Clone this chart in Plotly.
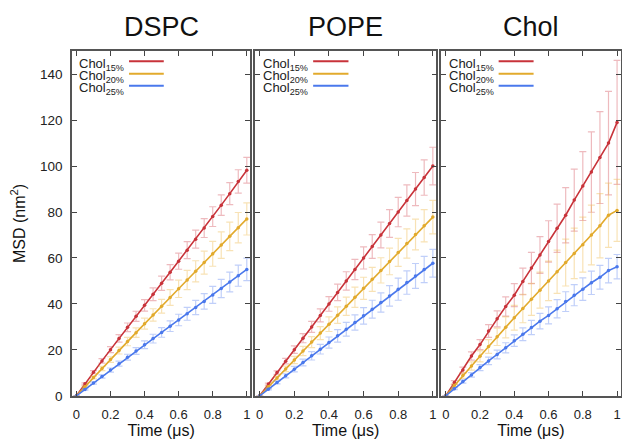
import plotly.graph_objects as go

time_us = [0, 0.05, 0.1, 0.15, 0.2, 0.25, 0.3, 0.35, 0.4, 0.45, 0.5,
           0.55, 0.6, 0.65, 0.7, 0.75, 0.8, 0.85, 0.9, 0.95, 1.0]

panels = ["DSPC", "POPE", "Chol"]
series_labels = ["15%", "20%", "25%"]

# DSPC
dspc_15 = [0, 5.2, 10.3, 15.2, 20.1, 25.0, 29.8, 34.6, 39.4, 44.2, 49.0, 53.8, 58.6, 63.4, 68.2, 73.0, 78.0, 83.0, 88.0, 93.3, 98.2]
dspc_15_err = [0, 0.4, 0.7, 1.0, 1.3, 1.6, 1.9, 2.2, 2.5, 2.8, 3.1, 3.3, 3.5, 3.7, 3.9, 4.1, 4.3, 4.5, 4.8, 5.1, 5.6]
dspc_20 = [0, 4.0, 8.0, 11.9, 15.8, 19.7, 23.6, 27.5, 31.4, 35.2, 39.0, 42.8, 46.6, 50.4, 54.2, 58.0, 61.8, 65.6, 69.4, 73.2, 77.0]
dspc_20_err = [0, 0.3, 0.6, 0.9, 1.2, 1.5, 1.8, 2.1, 2.4, 2.7, 3.0, 3.4, 3.8, 4.2, 4.6, 5.0, 5.4, 5.8, 6.2, 6.6, 7.0]
dspc_25 = [0, 2.8, 5.6, 8.4, 11.2, 14.0, 16.8, 19.5, 22.2, 24.9, 27.6, 30.3, 33.0, 35.7, 38.4, 41.1, 43.9, 46.7, 49.5, 52.3, 55.0]
dspc_25_err = [0, 0.3, 0.5, 0.7, 0.9, 1.1, 1.3, 1.5, 1.7, 1.9, 2.1, 2.3, 2.5, 2.8, 3.1, 3.4, 3.7, 4.0, 4.3, 4.6, 4.9]

# POPE
pope_15 = [0, 5.1, 10.1, 15.1, 20.1, 25.1, 30.0, 35.0, 40.0, 45.0, 50.0, 55.0, 60.0, 65.0, 70.0, 75.0, 80.0, 85.0, 90.0, 95.0, 100.0]
pope_15_err = [0, 0.4, 0.8, 1.2, 1.6, 2.0, 2.4, 2.8, 3.2, 3.6, 4.0, 4.4, 4.8, 5.2, 5.6, 6.0, 6.4, 6.8, 7.2, 7.7, 8.2]
pope_20 = [0, 3.9, 7.8, 11.7, 15.6, 19.5, 23.4, 27.3, 31.2, 35.1, 39.0, 42.9, 46.8, 50.7, 54.6, 58.5, 62.4, 66.3, 70.2, 74.0, 77.8]
pope_20_err = [0, 0.4, 0.8, 1.2, 1.6, 2.0, 2.4, 2.8, 3.2, 3.6, 4.0, 4.4, 4.8, 5.2, 5.5, 5.8, 6.1, 6.4, 6.7, 7.0, 7.3]
pope_25 = [0, 2.9, 5.8, 8.7, 11.6, 14.5, 17.4, 20.3, 23.2, 26.1, 29.0, 31.9, 34.8, 37.7, 40.6, 43.5, 46.4, 49.3, 52.2, 55.0, 57.7]
pope_25_err = [0, 0.3, 0.6, 0.9, 1.2, 1.5, 1.8, 2.1, 2.4, 2.7, 3.0, 3.3, 3.6, 3.9, 4.2, 4.5, 4.8, 5.1, 5.4, 5.7, 6.0]

# Chol
chol_15 = [0, 5.8, 11.2, 17.3, 22.3, 28.2, 33.5, 38.9, 43.8, 49.8, 55.6, 61.3, 67.2, 72.9, 78.6, 85.2, 91.3, 97.4, 103.7, 110.0, 119.0]
chol_15_err = [0, 0.8, 1.3, 1.8, 2.2, 2.8, 3.5, 4.2, 5.0, 5.8, 6.8, 8.0, 9.0, 10.5, 12.0, 13.5, 15.0, 17.5, 20.0, 22.5, 27.0]
chol_20 = [0, 4.5, 8.8, 13.0, 17.2, 21.5, 25.7, 29.8, 34.0, 38.0, 42.0, 46.0, 50.0, 54.0, 58.0, 62.0, 65.8, 70.0, 74.0, 78.6, 80.7]
chol_20_err = [0, 0.6, 1.2, 1.8, 2.4, 3.0, 3.8, 4.6, 5.4, 6.2, 7.0, 7.8, 8.6, 9.4, 10.2, 11.0, 12.0, 13.0, 14.0, 14.0, 13.5]
chol_25 = [0, 3.1, 6.2, 9.1, 12.3, 15.2, 18.0, 20.9, 24.0, 26.8, 29.7, 32.5, 35.0, 37.9, 41.0, 43.8, 46.4, 49.2, 51.6, 54.5, 56.2]
chol_25_err = [0, 0.4, 0.7, 1.0, 1.3, 1.6, 1.9, 2.2, 2.5, 2.8, 3.1, 3.4, 3.7, 4.0, 4.3, 4.6, 4.9, 5.1, 5.2, 5.3, 5.3]

y_ticks = [0, 20, 40, 60, 80, 100, 120, 140]
x_ticks = [0, 0.2, 0.4, 0.6, 0.8, 1]
x_tick_labels = ["0", "0.2", "0.4", "0.6", "0.8", "1"]

data = {
    "DSPC": [(dspc_15, dspc_15_err), (dspc_20, dspc_20_err), (dspc_25, dspc_25_err)],
    "POPE": [(pope_15, pope_15_err), (pope_20, pope_20_err), (pope_25, pope_25_err)],
    "Chol": [(chol_15, chol_15_err), (chol_20, chol_20_err), (chol_25, chol_25_err)],
}

line_colors = ["#c8333a", "#e2aa2c", "#4a78ec"]
err_colors = ["rgba(215,90,100,0.42)", "rgba(236,180,60,0.38)", "rgba(90,130,240,0.38)"]

FONT = "Liberation Sans, Arial, Helvetica, sans-serif"
W, H = 630, 440
OFF = 8  # page body margin
# panel frames on screen (slightly compressed so the right frame stays visible)
x_px = [(72, 250.2), (255.2, 436.3), (441.3, 620.5)]
x_domains = [((a - OFF) / W, (b - OFF) / W) for a, b in x_px]
top_px, bot_px = 52 - OFF, 403 - OFF
y_domain = (1 - bot_px / H, 1 - top_px / H)

fig = go.Figure()
layout = dict(
    width=W, height=H, autosize=False,
    margin=dict(l=0, r=0, t=0, b=0),
    paper_bgcolor="white", plot_bgcolor="white",
    showlegend=False,
    font=dict(family=FONT, color="#222"),
)
annotations = []
shapes = []
legend_rows = [(403 - 62.3) / 351, (403 - 75.0) / 351, (403 - 87.3) / 351]

for i, name in enumerate(panels):
    sfx = "" if i == 0 else str(i + 1)
    xa, ya = "x" + sfx, "y" + sfx
    for j, (vals, errs) in enumerate(data[name]):
        fig.add_trace(go.Scatter(
            x=time_us, y=vals, xaxis=xa, yaxis=ya,
            mode="lines+markers", name="Chol " + series_labels[j],
            line=dict(color=line_colors[j], width=1.6),
            marker=dict(color=line_colors[j], size=3.5),
            error_y=dict(type="data", array=errs, visible=True,
                         color=err_colors[j], thickness=1.2, width=3.5),
        ))
    layout["xaxis" + sfx] = dict(
        domain=list(x_domains[i]), anchor=ya, range=[-0.026, 1.02],
        tickvals=x_ticks, ticktext=x_tick_labels,
        ticks="inside", ticklen=5, tickwidth=1.2, tickcolor="#444",
        showline=True, linecolor="#555", linewidth=1.5, mirror="ticks",
        showgrid=False, zeroline=False,
        tickfont=dict(size=13, color="#222", family=FONT),
        ticklabelstandoff=6,
        title=dict(text="Time (μs)", font=dict(size=16, color="#111", family=FONT), standoff=4),
    )
    layout["yaxis" + sfx] = dict(
        domain=list(y_domain), anchor=xa, range=[0, 150],
        tickvals=y_ticks,
        ticks="inside", ticklen=5, tickwidth=1.2, tickcolor="#444",
        showline=True, linecolor="#555", linewidth=1.5, mirror="ticks",
        showgrid=False, zeroline=False,
        showticklabels=(i == 0),
        tickfont=dict(size=13.5, color="#222", family=FONT),
        ticklabelstandoff=5,
        title=dict(text="MSD (nm<sup>2</sup>)" if i == 0 else "",
                   font=dict(size=16, color="#111", family=FONT), standoff=14),
    )
    # panel title
    annotations.append(dict(
        text=name, xref=xa + " domain", yref="paper", x=0.5, y=1 - (27 - OFF) / H,
        xanchor="center", yanchor="middle", showarrow=False,
        font=dict(size=27, color="#111", family=FONT),
    ))
    # legend (text left, line sample right)
    for j in range(3):
        ly = legend_rows[j]
        annotations.append(dict(
            text="Chol<sub>" + series_labels[j] + "</sub>",
            xref=xa + " domain", yref=ya + " domain", x=0.03, y=ly - 0.008,
            xanchor="left", yanchor="middle", showarrow=False,
            font=dict(size=13, color="#222", family=FONT),
        ))
        shapes.append(dict(
            type="line", xref=xa + " domain", yref=ya + " domain",
            x0=0.32, x1=0.515, y0=ly, y1=ly,
            line=dict(color=line_colors[j], width=2),
        ))

layout["annotations"] = annotations
layout["shapes"] = shapes
fig.update_layout(**layout)
fig.write_html("out.html")
